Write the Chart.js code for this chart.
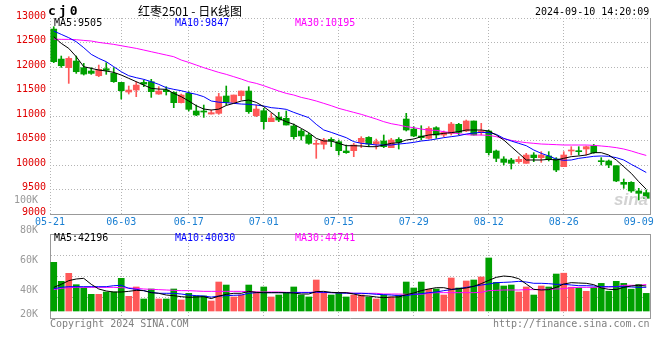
<!DOCTYPE html>
<html><head><meta charset="utf-8">
<script src="https://cdn.jsdelivr.net/npm/chart.js@4.4.1/dist/chart.umd.min.js"></script>
<style>
html,body{margin:0;padding:0;background:#fff;}
#wrap{position:relative;width:660px;height:360px;overflow:hidden;font-family:"DejaVu Sans Mono",monospace;font-size:10px;}
.t{position:absolute;white-space:pre;line-height:12px;}
canvas{position:absolute;left:0;}
</style></head><body>
<div id="wrap">
<canvas id="main" width="660" height="232" style="top:0px"></canvas>
<canvas id="vol" width="660" height="150" style="top:190px"></canvas>
<div class="t" style="left:48px;top:4px;font-weight:bold;font-size:13px;letter-spacing:3px;line-height:14px">cj0</div>
<div class="t" style="left:138px;top:4px;font-family:'Noto Sans CJK SC',sans-serif;font-size:12px;line-height:14px">红枣2501 - 日K线图</div>
<div class="t" style="left:535px;top:6px;">2024-09-10 14:20:09</div>
<div class="t" style="left:54px;top:17px;color:#000">MA5:9505</div>
<div class="t" style="left:175px;top:17px;color:#0000ff">MA10:9847</div>
<div class="t" style="left:295px;top:17px;color:#ff00ff">MA30:10195</div>
<div class="t" style="left:54px;top:232px;color:#000">MA5:42196</div>
<div class="t" style="left:175px;top:232px;color:#0000ff">MA10:40030</div>
<div class="t" style="left:295px;top:232px;color:#ff00ff">MA30:44741</div>
<div class="t" style="left:614px;top:191px;font-family:'Liberation Sans',sans-serif;font-style:italic;font-weight:bold;font-size:17px;line-height:17px;color:#d2d2d2">sina</div>
<div class="t" style="left:50px;top:318px;color:#808080">Copyright 2024 SINA.COM</div>
<div class="t" style="left:493px;top:318px;color:#808080">http://finance.sina.com.cn</div>
</div>
<script>
const DATES = ['05-21','05-22','05-23','05-24','05-27','05-28','05-29','05-30','05-31',
 '06-03','06-04','06-05','06-06','06-07','06-11','06-12','06-13','06-14',
 '06-17','06-18','06-19','06-20','06-21','06-24','06-25','06-26','06-27','06-28',
 '07-01','07-02','07-03','07-04','07-05','07-08','07-09','07-10','07-11','07-12',
 '07-15','07-16','07-17','07-18','07-19','07-22','07-23','07-24','07-25','07-26',
 '07-29','07-30','07-31','08-01','08-02','08-05','08-06','08-07','08-08','08-09',
 '08-12','08-13','08-14','08-15','08-16','08-19','08-20','08-21','08-22','08-23',
 '08-26','08-27','08-28','08-29','08-30','09-02','09-03','09-04','09-05','09-06',
 '09-09','09-10'];
const TICK_LABELS = ['05-21','06-03','06-17','07-01','07-15','07-29','08-12','08-26','09-09'];
const PRICE_TICKS = {min: 9000, max: 13000, step: 500};
const VOL_TICK_LABELS = ['100K','80K','60K','40K','20K'];
const VOL_TICK_VALUES = [100000, 80000, 60000, 40000, 20000];

const OPEN = [12774,12162,11986,12122,11986,11918,11822,11965,11870,11686,
 11489,11530,11686,11700,11448,11530,11482,11272,11462,11102,
 11102,11040,11054,11408,11278,11414,11510,11006,11108,10884,
 10979,10952,10796,10694,10612,10422,10422,10524,10476,10286,
 10292,10462,10564,10428,10490,10354,10524,10938,10734,10592,
 10544,10762,10612,10646,10830,10694,10898,10660,10694,10286,
 10122,10102,10068,10034,10204,10150,10184,10122,9966,10286,
 10292,10326,10388,10082,10082,9986,9646,9646,9470,9436];
const HIGH = [12822,12224,12210,12224,12074,11986,12040,12088,11986,11686,
 11612,11700,11734,11748,11598,11598,11496,11448,11496,11224,
 11224,11122,11462,11612,11428,11510,11598,11224,11156,11054,
 11074,11102,10836,10728,10646,10510,10544,10558,10510,10408,
 10442,10578,10578,10530,10612,10544,10558,11054,10782,10802,
 10782,10782,10694,10870,10850,10918,10898,10850,10714,10306,
 10170,10136,10170,10238,10252,10272,10272,10150,10272,10374,
 10374,10388,10422,10150,10102,9986,9714,9660,9524,9490];
const LOW = [12088,11992,11666,11870,11836,11850,11802,11850,11686,11346,
 11448,11394,11598,11380,11442,11428,11170,11265,11102,11006,
 10972,11040,11034,11224,11278,11326,11054,10986,10734,10884,
 10884,10816,10530,10510,10422,10136,10326,10374,10204,10238,
 10170,10354,10374,10326,10354,10354,10326,10694,10578,10510,
 10530,10544,10578,10612,10612,10680,10612,10612,10204,10068,
 10000,9918,10034,10034,10068,10054,10082,9864,9966,10204,
 10204,10204,10238,10000,9946,9660,9524,9442,9286,9306];
const CLOSE = [12108,12026,12176,11904,11856,11870,11952,11931,11700,11516,
 11530,11632,11652,11496,11510,11496,11272,11428,11136,11020,
 11081,11068,11394,11278,11428,11510,11088,11142,10884,10959,
 10918,10816,10578,10592,10442,10442,10510,10490,10292,10252,
 10408,10544,10428,10476,10374,10510,10462,10714,10592,10558,
 10748,10612,10666,10836,10666,10898,10612,10694,10252,10136,
 10054,10034,10116,10204,10150,10204,10122,9898,10204,10306,
 10272,10374,10252,10068,10000,9674,9606,9470,9422,9320];
const MA5 = [12618,12482,12380,12210,12006,11972,11938,11918,11890,11836,
 11768,11700,11632,11564,11550,11544,11462,11394,11306,11210,
 11142,11122,11140,11215,11258,11306,11326,11278,11190,11074,
 10952,10884,10830,10748,10660,10544,10490,10490,10442,10394,
 10394,10388,10374,10374,10408,10442,10456,10510,10530,10578,
 10612,10626,10646,10660,10680,10714,10714,10714,10694,10612,
 10510,10374,10238,10102,10102,10102,10116,10102,10136,10170,
 10184,10204,10252,10252,10204,10102,9966,9830,9660,9505];
const MA10 = [12734,12666,12598,12516,12394,12258,12176,12108,12006,11904,
 11822,11782,11748,11700,11646,11578,11544,11516,11476,11442,
 11394,11306,11282,11272,11258,11244,11238,11224,11204,11170,
 11156,11136,11074,11020,10966,10830,10714,10666,10612,10558,
 10476,10442,10428,10408,10408,10408,10428,10442,10462,10490,
 10506,10530,10558,10578,10598,10632,10653,10666,10660,10626,
 10544,10490,10442,10394,10306,10238,10184,10122,10095,10102,
 10136,10156,10177,10184,10177,10150,10102,10014,9932,9847];
const MA30 = [12570,12564,12564,12557,12543,12530,12502,12482,12462,12434,
 12407,12380,12346,12312,12278,12244,12210,12142,12094,12040,
 11986,11938,11890,11850,11802,11754,11700,11666,11618,11564,
 11510,11462,11428,11380,11346,11306,11258,11210,11156,11115,
 11074,11034,10986,10938,10884,10843,10816,10782,10762,10734,
 10711,10707,10680,10660,10639,10619,10612,10612,10605,10578,
 10537,10503,10476,10456,10442,10428,10422,10415,10408,10408,
 10408,10408,10401,10388,10374,10354,10326,10286,10238,10195];
const VOL = [82300,50100,63700,44500,38900,28200,28200,32100,32100,55200,
 24800,40600,20300,37200,20300,20300,37200,18600,29900,25400,
 25400,16900,49000,43900,23700,27000,43900,32100,40600,23700,
 27000,30400,40600,27000,23700,52400,30400,27000,30400,23700,
 27000,27000,23700,20300,27000,23700,27000,49000,38900,49000,
 36900,37200,27000,55800,38900,50700,52400,57500,89600,48400,
 42300,43900,32100,40600,27000,42300,40600,62500,63900,40300,
 38900,33300,39700,46700,33500,50100,46700,36900,45000,29800];
const VMA5 = [40000,45100,51300,54100,55200,45100,37200,33800,32100,32100,
 33200,34900,34400,31000,29900,27000,25900,24200,23100,23700,
 24200,21000,25000,28200,29900,29900,33200,31500,31000,31000,
 31000,31000,30400,28700,28700,32700,33200,31500,31000,31000,
 28700,25900,25300,23700,22500,23700,23700,27600,30400,34400,
 37200,39400,39400,36600,37700,38900,41700,46200,51800,56900,
 59100,58000,54600,45600,36600,35500,36100,40000,45600,47900,
 47300,46800,44500,38900,36600,36100,40000,42300,43400,42196];
const VMA10 = [37700,40000,41100,41100,41100,41100,41100,41100,42800,43400,
 38300,36600,34400,31500,29900,29900,29900,28700,27000,25900,
 25300,23500,25300,25900,26500,27000,29900,31000,31000,31000,
 31000,31000,31000,31000,31000,32100,31500,31000,30400,29900,
 29900,29900,29300,28200,27600,27000,25900,25900,28200,29300,
 31000,32100,34400,36100,37700,40000,41700,43900,45600,47900,
 48400,49000,50100,49000,46800,46800,46200,45100,45100,43900,
 42800,42800,42300,41100,41100,41100,41100,40600,40000,40030];
const VMA30 = [36100,38300,39400,40000,40000,40000,40000,40000,40000,39400,
 38900,38300,37200,36600,36100,35500,34900,34400,34400,33800,
 33200,33200,33200,33200,33200,33200,32700,32100,32100,32100,
 32100,31500,31500,31500,31500,31500,31000,31000,31000,31000,
 29900,29900,29900,29900,28700,28700,28700,28200,28200,28200,
 29900,31000,31000,31000,31000,31000,31000,31500,34400,34900,
 35500,35500,35500,36100,36100,36600,36600,37200,37700,39400,
 40000,40000,40000,40600,40600,41100,43400,43400,43400,44741];

const UP = '#ff5858', DOWN = '#00a000', GRID = '#b4b4b4', FRAME = '#999999';
const FONT = {family: '"DejaVu Sans Mono", monospace', size: 10};
Chart.defaults.font = Object.assign({}, Chart.defaults.font, FONT);

const colors = CLOSE.map((c, i) => c >= OPEN[i] ? UP : DOWN);
const pts = arr => arr.map((v, i) => ({x: i, y: v}));
const line = (arr, color) => ({type: 'line', data: pts(arr), borderColor: color, borderWidth: 1,
  pointRadius: 0, tension: 0, order: 0, fill: false});
const dateTicks = s => {
  s.ticks = TICK_LABELS.map((lab, k) => ({value: k === 0 ? s.min : DATES.indexOf(lab)}));
};
const xMin = -0.5, xMax = DATES.length - 0.5;
const common = {responsive: false, animation: false, events: [],
  plugins: {legend: {display: false}, tooltip: {enabled: false}}};

new Chart(document.getElementById('main'), {
  type: 'bar',
  data: {datasets: [
    line(MA5, '#000000'), line(MA10, '#0000ff'), line(MA30, '#ff00ff'),
    {data: OPEN.map((o, i) => ({x: i, y: [o, CLOSE[i]]})), backgroundColor: colors,
     barThickness: 6, minBarLength: 1, grouped: false, order: 2},
    {data: LOW.map((l, i) => ({x: i, y: [l, HIGH[i]]})), backgroundColor: colors,
     barThickness: 1, grouped: false, order: 3}
  ]},
  options: Object.assign({}, common, {
    layout: {padding: {top: 18, right: 10, left: 0, bottom: 0}},
    scales: {
      x: {type: 'linear', min: xMin, max: xMax, offset: false,
        afterBuildTicks: dateTicks,
        afterFit: s => { s.height = 18; },
        grid: {offset: false, drawTicks: false,
          color: c => c.index === TICK_LABELS.length - 1 ? 'rgba(0,0,0,0)' : GRID},
        border: {color: FRAME, dash: [1, 2]},
        ticks: {color: '#1a7fd2', padding: 2, maxRotation: 0, autoSkip: false,
          callback: (v, i) => TICK_LABELS[i]}},
      y: {type: 'linear', position: 'left', min: PRICE_TICKS.min, max: PRICE_TICKS.max,
        afterFit: s => { s.width = 50; },
        grid: {drawTicks: false, color: c => c.index === 0 ? 'rgba(0,0,0,0)' : GRID},
        border: {display: false, dash: [1, 2]},
        ticks: {stepSize: PRICE_TICKS.step, color: '#e00000', padding: 4, labelOffset: -2,
          callback: v => String(v)}},
      yR: {type: 'linear', position: 'right', min: PRICE_TICKS.min, max: PRICE_TICKS.max,
        afterFit: s => { s.width = 0; },
        grid: {display: false}, ticks: {display: false}, border: {color: FRAME}}
    }
  })
});

new Chart(document.getElementById('vol'), {
  type: 'bar',
  data: {datasets: [
    line(VMA5, '#000000'), line(VMA10, '#0000ff'), line(VMA30, '#ff00ff'),
    {data: pts(VOL), backgroundColor: colors, barThickness: 6, grouped: false, order: 2}
  ]},
  options: Object.assign({}, common, {
    layout: {padding: {top: 44, right: 10, left: 0, bottom: 0}},
    scales: {
      x: {type: 'linear', min: xMin, max: xMax, offset: false,
        afterBuildTicks: dateTicks,
        afterFit: s => { s.height = 22; },
        grid: {offset: false, drawTicks: false,
          color: c => c.index === TICK_LABELS.length - 1 ? 'rgba(0,0,0,0)' : GRID},
        border: {color: FRAME, dash: [1, 2]},
        ticks: {display: false}},
      xT: {type: 'linear', position: 'top', min: xMin, max: xMax,
        afterFit: s => { s.height = 0; },
        grid: {display: false}, ticks: {display: false}, border: {color: FRAME}},
      y: {type: 'linear', position: 'left', weight: 0, min: -11830, max: 130130,
        afterFit: s => { s.width = 0; },
        grid: {drawTicks: false, color: c => (c.index === 0 || c.index === 4) ? 'rgba(0,0,0,0)' : GRID},
        border: {color: FRAME, dash: [1, 2]},
        ticks: {display: false, count: 5}},
      yL: {type: 'linear', position: 'left', weight: 1, min: 24000, max: 80000,
        afterBuildTicks: s => { s.ticks = VOL_TICK_VALUES.map(v => ({value: Math.max(v, s.min)})); },
        afterFit: s => { s.width = 50; },
        grid: {display: false}, border: {display: false},
        ticks: {color: '#999999', padding: 4, labelOffset: -3.5, autoSkip: false,
          callback: (v, i) => VOL_TICK_LABELS[i]}},
      yR: {type: 'linear', position: 'right', min: 0, max: 1,
        afterFit: s => { s.width = 0; },
        grid: {display: false}, ticks: {display: false}, border: {color: FRAME}}
    }
  })
});
</script>
</body></html>
